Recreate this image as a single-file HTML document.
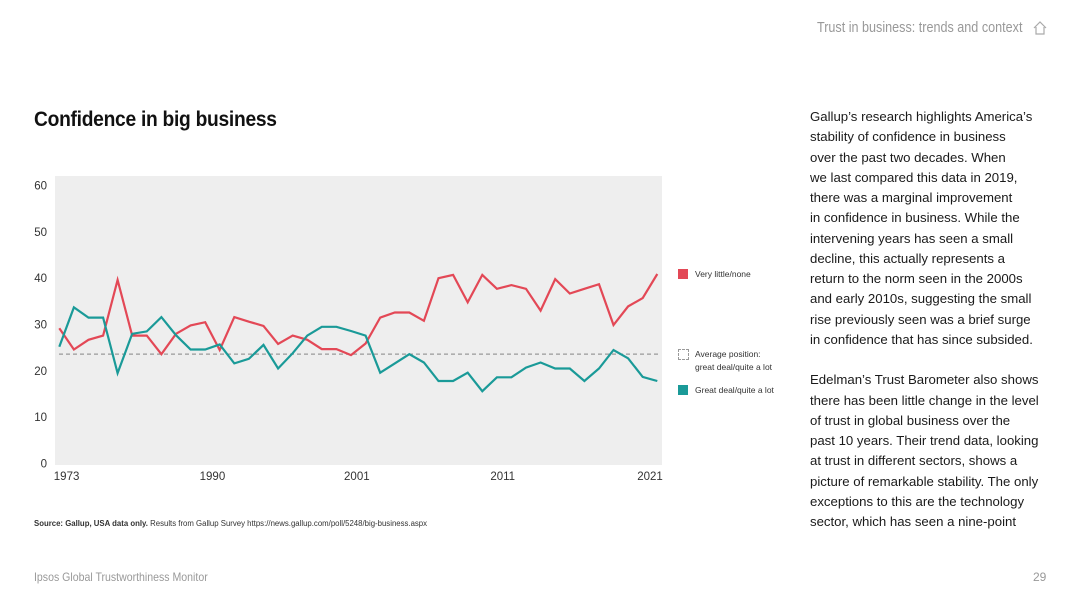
<!DOCTYPE html>
<html><head><meta charset="utf-8"><style>
html,body{margin:0;padding:0;background:#fff;}
body{width:1080px;height:608px;position:relative;overflow:hidden;font-family:"Liberation Sans",sans-serif;color:#111;}
.abs{position:absolute;}
#title{left:34px;top:108px;font-size:21px;font-weight:bold;letter-spacing:-0.3px;transform:scaleX(0.915);transform-origin:left top;}
#header{left:817px;top:19px;font-size:15px;color:#999;transform:scaleX(0.84);transform-origin:left top;white-space:nowrap;}
#body-text{left:810px;top:107px;font-size:13.2px;line-height:20.25px;color:#1a1a1a;white-space:nowrap;}
#source{left:34px;top:519px;font-size:7.8px;color:#333;white-space:nowrap;}
#footer{left:34px;top:570px;font-size:12px;color:#999;transform:scaleX(0.88);transform-origin:left top;white-space:nowrap;}
#pagenum{left:1033px;top:570px;font-size:12px;color:#999;}
.leg{font-size:8.5px;color:#333;line-height:13px;}
</style></head><body>
<div class="abs" id="header">Trust in business: trends and context</div>
<svg class="abs" style="left:1032px;top:20px" width="16" height="16"><path d="M2 8 L8 2 L14 8 M4 7 V14 H12 V7" fill="none" stroke="#aaa" stroke-width="1.2"/></svg>
<div class="abs" id="title">Confidence in big business</div>
<svg class="abs" id="chart" style="left:0;top:0" width="800" height="500"></svg>
<div class="abs leg" style="left:695px;top:268px"><span style="position:absolute;left:-17px;top:1px;width:10px;height:10px;background:#e34856"></span>Very little/none</div>
<div class="abs leg" style="left:695px;top:348px"><span style="position:absolute;left:-17px;top:1px;width:9px;height:9px;border:1px dashed #999"></span>Average position:<br>great deal/quite a lot</div>
<div class="abs leg" style="left:695px;top:384px"><span style="position:absolute;left:-17px;top:1px;width:10px;height:10px;background:#1a9a98"></span>Great deal/quite a lot</div>
<div class="abs" id="body-text">Gallup’s research highlights America’s<br>stability of confidence in business<br>over the past two decades. When<br>we last compared this data in 2019,<br>there was a marginal improvement<br>in confidence in business. While the<br>intervening years has seen a small<br>decline, this actually represents a<br>return to the norm seen in the 2000s<br>and early 2010s, suggesting the small<br>rise previously seen was a brief surge<br>in confidence that has since subsided.<br><br>Edelman’s Trust Barometer also shows<br>there has been little change in the level<br>of trust in global business over the<br>past 10 years. Their trend data, looking<br>at trust in different sectors, shows a<br>picture of remarkable stability. The only<br>exceptions to this are the technology<br>sector, which has seen a nine-point</div>
<div class="abs" id="source"><b>Source:</b> <b style="font-weight:600">Gallup, USA data only.</b> Results from Gallup Survey https://news.gallup.com/poll/5248/big-business.aspx</div>
<div class="abs" id="footer">Ipsos Global Trustworthiness Monitor</div>
<div class="abs" id="pagenum">29</div>
<script>
const veryLittle=[29.2,24.6,26.7,27.6,39.6,27.6,27.6,23.6,28,29.8,30.5,24.5,31.6,30.6,29.7,25.8,27.6,26.7,24.7,24.7,23.4,25.9,31.5,32.6,32.6,30.8,40,40.7,34.8,40.7,37.7,38.5,37.7,33,39.8,36.7,37.7,38.7,29.9,33.9,35.7,40.9];
const greatDeal=[25.2,33.7,31.5,31.5,19.5,28,28.5,31.6,27.7,24.6,24.6,25.7,21.6,22.6,25.6,20.5,23.8,27.6,29.5,29.5,28.6,27.6,19.6,21.6,23.6,21.8,17.8,17.8,19.6,15.6,18.6,18.6,20.7,21.8,20.5,20.5,17.8,20.5,24.5,22.7,18.7,17.8];
const averageValue=[23.6];
const yTicks=[0,10,20,30,40,50,60];
const xTickLabels=["1973","1990","2001","2011","2021"];
const xTickIndex=[0.5,10.5,20.4,30.4,40.5];
const NS="http://www.w3.org/2000/svg";
const svg=document.getElementById('chart');
const x0=59.3,x1=657.3,n=veryLittle.length;
const X=i=>x0+(x1-x0)*i/(n-1);
const Y=v=>463.5-(463.5-185.5)*v/60;
function mk(t,a){const e=document.createElementNS(NS,t);for(const k in a)e.setAttribute(k,a[k]);svg.appendChild(e);return e;}
const bg=mk('rect',{x:55,y:176,width:607,height:289,fill:'#eeeeee'});


yTicks.forEach(t=>{const e=mk('text',{x:47,y:Y(t)+4,'text-anchor':'end','font-size':11.5,fill:'#333','font-family':'Liberation Sans'});e.textContent=t;

});
xTickLabels.forEach((l,i)=>{const e=mk('text',{x:X(xTickIndex[i]),y:480,'text-anchor':'middle','font-size':11.5,fill:'#333','font-family':'Liberation Sans'});e.textContent=l;

});
const avg=mk('line',{x1:59,x2:658,y1:Y(averageValue[0]),y2:Y(averageValue[0]),stroke:'#999','stroke-width':1.2,'stroke-dasharray':'4,3'});


function line(d,c,name){const p=mk('polyline',{points:d.map((v,i)=>X(i).toFixed(1)+','+Y(v).toFixed(1)).join(' '),fill:'none',stroke:c,'stroke-width':2.2,'stroke-linejoin':'miter'});

}
line(veryLittle,'#e34856','very-little-line');
line(greatDeal,'#1a9a98','great-deal-line');
</script>
</body></html>
